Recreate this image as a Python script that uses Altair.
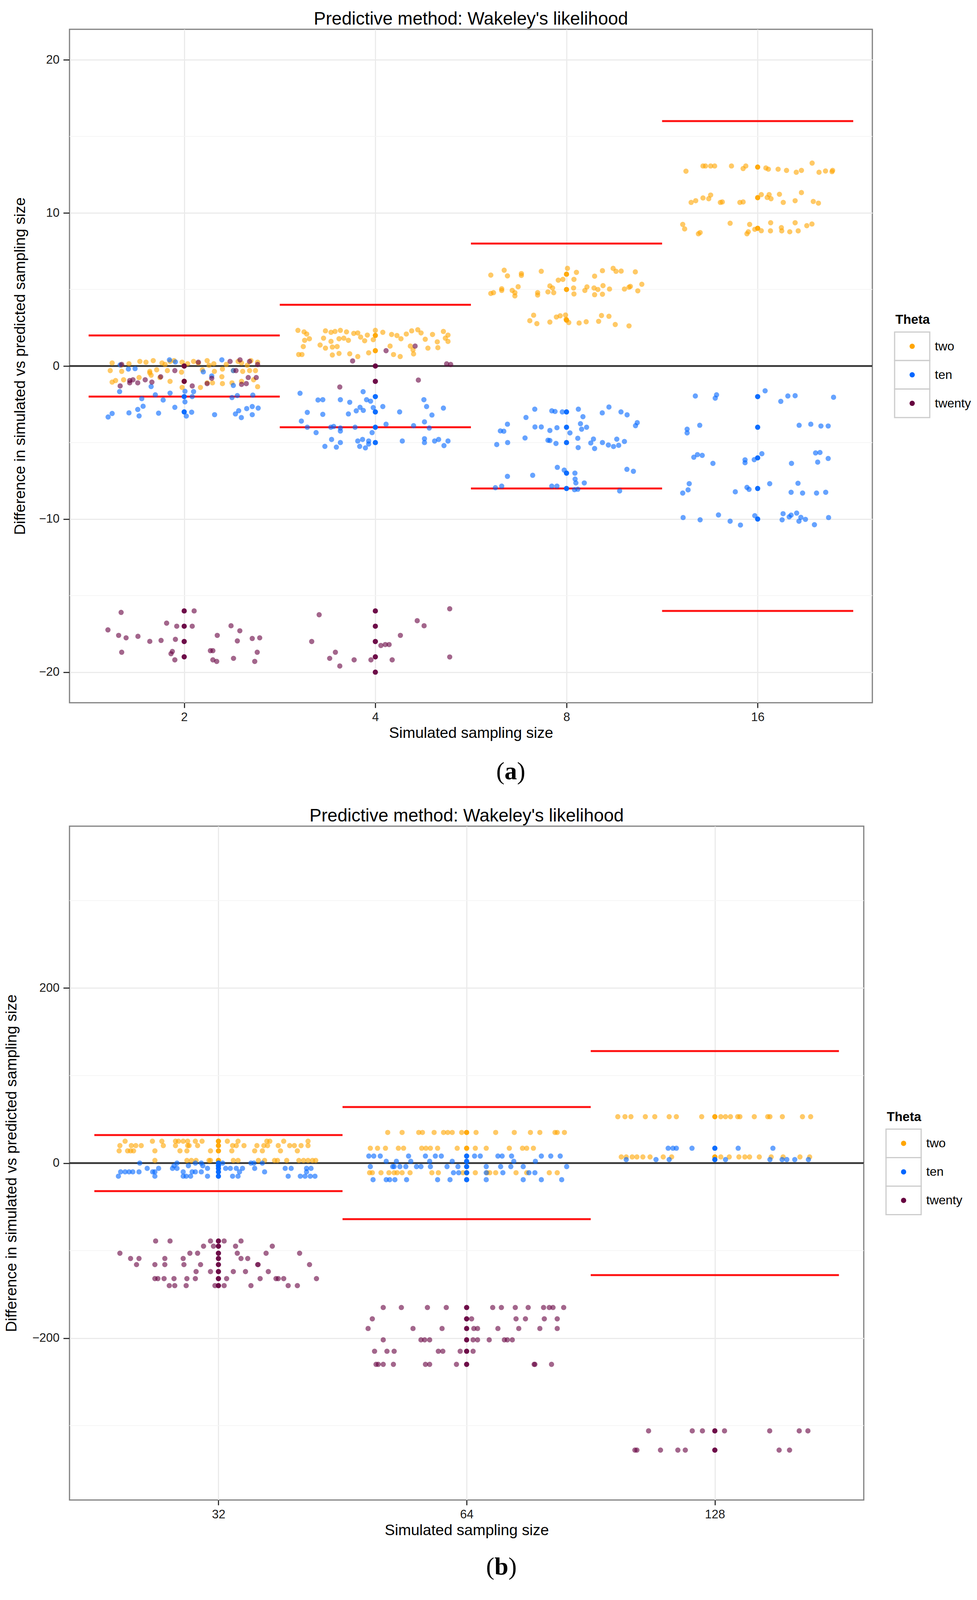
import altair as alt
import pandas as pd

FONT = "Liberation Sans"
SERIF = "Liberation Serif"

THETA = ["two", "ten", "twenty"]
COLORS = ["#FFA500", "#0066FF", "#66003F"]

TITLE = "Predictive method: Wakeley's likelihood"
X_TITLE = "Simulated sampling size"
Y_TITLE = "Difference in simulated vs predicted sampling size"

# ---------------- panel (a) ----------------
SIZES_A = [2, 4, 8, 16]
YTICKS_A = [-20, -10, 0, 10, 20]
YMINOR_A = [-15, -5, 5, 15]

# jittered points: (offset inside the category, value)
A2_TWO = [(-0.377, 0.2), (-0.289, 0.15), (-0.232, 0.3), (-0.2, 0.25), (-0.162, 0.35), (-0.116, 0.2),
          (-0.074, 0.3), (-0.053, 0.35), (-0.011, 0.25), (0.018, 0.15), (0.049, 0.3), (0.074, 0.2),
          (0.12, 0.35), (0.155, 0.15), (0.282, 0.3), (0.3, 0.2), (0.349, 0.35), (0.384, 0.25),
          (-0.33, 0.05), (-0.1, 0.1), (0.13, 0.05), (0.22, 0.1), (0.33, 0.05),
          (-0.387, -0.3), (-0.327, -0.35), (-0.18, -0.35), (-0.144, -0.25), (-0.088, -0.3), (-0.014, -0.4),
          (0.095, -0.25), (0.158, -0.35), (0.2, -0.2), (0.257, -0.3), (0.306, -0.35), (0.342, -0.3), (0.373, -0.3),
          (-0.377, -1.05), (-0.359, -0.95), (-0.317, -0.9), (-0.236, -0.75), (-0.173, -0.6), (-0.127, -0.75),
          (-0.074, -1.0), (0.12, -1.1), (0.148, -1.1), (0.197, -0.7), (0.2, -1.15), (0.25, -1.1), (0.3, -1.0),
          (0.363, -0.9), (0.384, -1.35), (-0.011, -1.4), (0.085, -1.4), (-0.18, -0.45)]
A2_TEN = [(-0.335, 0.07), (-0.292, -0.2), (-0.257, -0.17), (-0.077, 0.4), (-0.046, 0.27), (0.1, -0.38),
          (0.197, 0.4), (0.257, -0.3),
          (-0.338, -1.67), (-0.173, -1.34), (-0.151, -1.88), (-0.074, -1.77), (0.004, -1.65), (0.049, -1.67),
          (0.144, -0.65), (0.257, -1.27), (0.278, -1.93), (0.359, -1.9), (0.042, -2.0), (0.25, -2.06),
          (-0.222, -2.13), (-0.11, -2.22), (0.004, -2.34),
          (-0.398, -3.33), (-0.377, -3.1), (-0.289, -3.06), (-0.243, -2.84), (-0.215, -2.63), (-0.236, -3.26),
          (-0.134, -3.08), (-0.049, -2.7), (0.039, -3.02), (0.011, -3.27), (0.159, -3.18), (0.268, -3.13),
          (0.285, -2.92), (0.327, -2.78), (0.356, -2.65), (0.387, -2.75), (0.299, -3.37), (0.356, -3.18)]
A2_TWENTY = [(-0.327, 0.1), (0.074, 0.25), (0.24, 0.3), (0.292, 0.4), (0.342, 0.3), (0.384, 0.1),
             (-0.049, -0.3), (0.271, -0.3), (-0.335, -1.3), (-0.285, -0.95), (-0.268, -0.9), (-0.243, -1.1),
             (-0.285, -1.1), (-0.204, -0.9), (-0.169, -1.05), (-0.123, -0.7), (0.042, -1.3), (0.12, -1.15),
             (0.144, -0.8), (0.3, -1.2), (0.325, -1.15), (0.335, -0.75), (0.377, -0.75),
             (-0.399, -17.24), (-0.33, -16.1), (-0.343, -17.6), (-0.327, -18.7), (-0.304, -17.76),
             (-0.242, -17.66), (-0.18, -17.99), (-0.121, -17.93), (-0.092, -16.8), (-0.069, -18.8),
             (-0.062, -18.65), (-0.046, -17.86), (-0.049, -19.2), (-0.039, -17.0), (0.052, -16.0),
             (0.042, -17.0), (0.137, -18.6), (0.15, -18.6), (0.15, -19.2), (0.17, -19.3), (0.173, -17.6),
             (0.245, -16.97), (0.258, -19.1), (0.278, -17.96), (0.291, -17.3), (0.356, -17.8), (0.369, -19.3),
             (0.382, -18.7), (0.395, -17.76)]

A4_TWO = [(-0.405, 2.33), (-0.373, 2.23), (-0.359, 2.09), (-0.261, 2.3), (-0.232, 2.2), (-0.211, 2.26),
          (-0.183, 2.33), (-0.151, 2.23), (-0.113, 2.13), (-0.092, 2.16), (-0.042, 2.02), (0.0, 2.33),
          (0.039, 2.2), (0.085, 2.06), (0.113, 1.99), (0.162, 2.09), (0.19, 2.3), (0.222, 2.37), (0.239, 2.16),
          (0.299, 2.06), (0.356, 2.26), (0.38, 2.02),
          (-0.37, 1.68), (-0.345, 1.78), (-0.271, 1.82), (-0.232, 1.61), (-0.19, 1.78), (-0.165, 1.82),
          (-0.141, 1.68), (-0.077, 1.89), (-0.056, 1.65), (-0.011, 1.72), (0.134, 1.78), (0.261, 1.75),
          (0.324, 1.58), (0.366, 1.82), (0.38, 1.61),
          (-0.377, 1.27), (-0.289, 1.37), (-0.261, 1.17), (-0.225, 1.24), (-0.2, 1.27), (0.077, 1.3),
          (0.183, 1.3), (0.275, 1.17), (0.327, 1.2), (0.197, 1.06),
          (-0.401, 0.75), (-0.384, 0.75), (-0.225, 0.72), (-0.19, 0.82), (-0.134, 0.8), (-0.092, 0.62),
          (-0.035, 0.86), (0.095, 0.75), (0.13, 0.62), (0.2, 0.79)]
A4_TEN = [(-0.394, -1.78), (-0.3, -2.22), (-0.275, -2.2), (-0.183, -2.2), (-0.134, -2.37), (-0.064, -1.68),
          (-0.046, -2.2), (-0.025, -2.3), (0.254, -2.2),
          (-0.356, -3.03), (-0.275, -3.16), (-0.141, -3.13), (-0.1, -2.93), (-0.08, -2.7), (-0.063, -2.9),
          (-0.011, -2.72), (0.039, -2.65), (0.127, -3.0), (0.268, -2.65), (0.296, -3.2), (0.356, -2.75),
          (-0.387, -3.6), (-0.356, -4.0), (-0.233, -4.0), (-0.218, -3.95), (-0.183, -4.05), (-0.183, -4.25),
          (-0.106, -4.0), (0.056, -3.8), (0.2, -3.9), (0.257, -3.65), (0.282, -4.05), (-0.31, -4.35),
          (-0.017, -4.35),
          (-0.229, -4.8), (-0.183, -5.0), (-0.264, -5.25), (-0.204, -5.3), (-0.092, -4.9), (-0.067, -4.8),
          (-0.082, -5.25), (-0.052, -5.35), (-0.035, -5.1), (-0.035, -4.9), (0.141, -4.9), (0.257, -4.75),
          (0.257, -5.0), (0.31, -4.9), (0.331, -4.8), (0.38, -4.9), (0.359, -5.2)]
A4_TWENTY = [(-0.119, 0.33), (0.056, 1.0), (0.208, 1.3), (0.373, 0.14), (0.394, 0.1), (0.225, -0.92),
             (-0.186, -1.37),
             (-0.333, -18.0), (-0.294, -16.25), (-0.239, -19.1), (-0.209, -18.7), (-0.186, -19.6),
             (-0.111, -19.2), (-0.023, -19.2), (0.029, -18.26), (0.052, -18.2), (0.072, -18.2), (0.088, -19.2),
             (0.131, -17.6), (0.219, -16.64), (0.255, -16.97), (0.389, -15.86), (0.389, -19.01)]

A8_TWO = [(-0.396, 5.94), (-0.326, 6.26), (-0.309, 5.89), (-0.236, 6.04), (-0.236, 5.92), (-0.132, 6.19),
          (0.005, 6.38), (0.052, 6.12), (-0.043, 5.61), (-0.019, 5.66), (0.039, 5.66), (0.147, 5.87),
          (0.188, 6.23), (0.244, 6.38), (0.259, 6.19), (0.286, 6.2), (0.36, 6.15),
          (-0.396, 4.74), (-0.382, 4.79), (-0.339, 5.05), (-0.339, 4.94), (-0.284, 4.94), (-0.27, 4.79),
          (-0.27, 4.58), (-0.253, 5.18), (-0.151, 4.79), (-0.151, 4.64), (-0.097, 4.84), (-0.087, 5.23),
          (-0.073, 5.1), (-0.067, 4.79), (0.037, 5.1), (0.039, 4.71), (0.096, 4.94), (0.107, 5.17),
          (0.144, 5.1), (0.164, 5.0), (0.147, 4.66), (0.188, 4.69), (0.191, 5.25), (0.225, 5.03),
          (0.303, 5.03), (0.327, 5.15), (0.334, 5.2), (0.373, 4.91), (0.394, 5.34),
          (-0.192, 2.96), (-0.172, 3.32), (-0.155, 2.77), (-0.087, 2.87), (-0.053, 3.2), (-0.033, 3.28),
          (-0.005, 3.33), (-0.002, 3.05), (0.012, 2.84), (0.066, 2.81), (0.103, 2.89), (0.168, 2.92),
          (0.183, 3.3), (0.222, 3.25), (0.255, 2.71), (0.327, 2.62)]
A8_TEN = [(-0.166, -2.82), (-0.077, -2.93), (-0.06, -2.97), (-0.022, -3.0), (0.062, -2.82), (0.187, -3.06),
          (0.222, -2.68), (0.285, -3.0), (0.317, -3.19), (0.086, -3.31), (-0.212, -3.36),
          (-0.309, -3.8), (-0.346, -4.24), (-0.328, -4.26), (-0.165, -3.98), (-0.132, -3.98), (-0.087, -4.21),
          (-0.05, -4.03), (0.018, -4.37), (0.073, -3.77), (0.079, -4.13), (0.105, -4.0), (0.37, -3.7),
          (0.361, -3.9),
          (-0.365, -5.13), (-0.308, -5.0), (-0.217, -4.7), (-0.097, -4.85), (-0.087, -4.87), (-0.055, -5.06),
          (0.059, -4.72), (0.061, -5.33), (0.127, -5.03), (0.141, -4.77), (0.147, -5.39), (0.188, -5.0),
          (0.219, -5.16), (0.246, -5.26), (0.263, -4.78), (0.273, -5.18), (0.303, -4.93),
          (-0.309, -7.21), (-0.177, -7.14), (-0.048, -6.62), (-0.012, -6.8), (0.044, -7.0), (0.045, -7.39),
          (0.049, -7.64), (0.093, -7.64), (0.316, -6.75), (0.35, -6.88),
          (-0.372, -7.95), (-0.339, -7.85), (-0.077, -7.85), (-0.05, -7.85), (0.042, -8.08), (0.059, -8.05),
          (0.278, -8.16)]

A16_TWO = [(-0.375, 12.73), (-0.286, 13.07), (-0.273, 13.07), (-0.246, 13.07), (-0.225, 13.07),
           (-0.137, 13.07), (-0.076, 12.9), (-0.062, 13.07), (0.043, 12.94), (0.056, 12.86), (0.107, 12.86),
           (0.151, 12.78), (0.202, 12.66), (0.229, 12.78), (0.285, 13.26), (0.321, 12.66), (0.355, 12.74),
           (0.389, 12.7), (0.392, 12.78),
           (-0.348, 10.69), (-0.324, 10.8), (-0.286, 10.98), (-0.256, 10.93), (-0.246, 11.17),
           (-0.195, 10.69), (-0.185, 10.72), (-0.093, 10.69), (-0.076, 10.72), (0.019, 11.2), (0.05, 11.01),
           (0.06, 11.2), (0.07, 10.93), (0.114, 11.22), (0.134, 10.69), (0.196, 10.8), (0.229, 11.33),
           (0.291, 10.75), (0.318, 10.64),
           (-0.392, 9.25), (-0.382, 8.96), (-0.31, 8.64), (-0.301, 8.72), (-0.144, 9.33), (-0.042, 9.25),
           (-0.049, 8.77), (-0.056, 8.64), (-0.015, 8.93), (0.019, 8.84), (0.068, 9.36), (0.067, 8.83),
           (0.124, 9.04), (0.126, 8.83), (0.168, 8.77), (0.196, 9.36), (0.212, 8.83), (0.257, 9.17),
           (0.284, 9.28)]
A16_TEN = [(-0.326, -1.96), (-0.215, -1.88), (-0.222, -2.1), (0.039, -1.62), (0.121, -2.31), (0.158, -1.96),
           (0.196, -1.94), (0.397, -2.04),
           (-0.369, -4.13), (-0.369, -4.37), (-0.303, -3.87), (0.217, -3.87), (0.278, -3.8), (0.331, -3.92),
           (0.369, -3.92),
           (-0.334, -5.96), (-0.315, -5.79), (-0.29, -5.84), (-0.234, -6.36), (-0.066, -6.13), (-0.066, -6.32),
           (-0.018, -6.12), (0.022, -5.73), (0.177, -6.36), (0.303, -5.68), (0.326, -5.65), (0.314, -6.28),
           (0.369, -6.04),
           (-0.358, -7.69), (-0.364, -8.09), (-0.392, -8.3), (-0.117, -8.22), (-0.056, -7.93), (-0.045, -8.06),
           (0.063, -7.69), (0.175, -8.25), (0.211, -7.66), (0.235, -8.3), (0.308, -8.3), (0.356, -8.25),
           (-0.39, -9.9), (-0.301, -10.05), (-0.205, -9.73), (-0.144, -10.14), (-0.09, -10.39),
           (-0.015, -9.78), (0.133, -9.65), (0.128, -10.05), (0.165, -9.86), (0.175, -9.74), (0.204, -9.61),
           (0.216, -10.14), (0.226, -9.89), (0.25, -10.02), (0.297, -10.37), (0.371, -9.9)]

A_JITTER = {
    (2, "two"): A2_TWO, (2, "ten"): A2_TEN, (2, "twenty"): A2_TWENTY,
    (4, "two"): A4_TWO, (4, "ten"): A4_TEN, (4, "twenty"): A4_TWENTY,
    (8, "two"): A8_TWO, (8, "ten"): A8_TEN,
    (16, "two"): A16_TWO, (16, "ten"): A16_TEN,
}
# un-jittered points drawn on the category line
A_CENTRES = {
    (2, "two"): [0, -1], (2, "ten"): [-2, -3], (2, "twenty"): [0, -1, -16, -17, -18, -19],
    (4, "two"): [2, 1], (4, "ten"): [-2, -3, -4, -5], (4, "twenty"): [0, -1, -16, -17, -18, -19, -20],
    (8, "two"): [6, 5, 3], (8, "ten"): [-3, -4, -5, -7, -8],
    (16, "two"): [13, 11, 9], (16, "ten"): [-2, -4, -6, -8, -10],
}

# ---------------- panel (b) ----------------
SIZES_B = [32, 64, 128]
YTICKS_B = [-200, 0, 200]
YMINOR_B = [-300, -100, 100, 300]

# value level -> offsets of the jittered points inside the category
B32_TWO = {25: [-0.376, -0.266, -0.228, -0.173, -0.161, -0.142, -0.124, -0.093, -0.066, 0.036, 0.079, 0.195, 0.207, 0.263, 0.361],
           20: [-0.397, -0.351, -0.333, -0.311, -0.222, -0.173, -0.124, -0.118, -0.084, 0.057, 0.072, 0.103, 0.155, 0.183, 0.198, 0.241, 0.287, 0.306, 0.333, 0.361],
           14: [-0.4, -0.366, -0.354, -0.342, -0.256, -0.155, -0.127, -0.032, 0.054, 0.146, 0.177, 0.25, 0.318],
           3: [-0.256, -0.127, -0.109, -0.09, -0.038, -0.032, 0.06, 0.079, 0.161, 0.186, 0.226, 0.238, 0.275, 0.324, 0.343, 0.361, 0.379, 0.392]}
B32_TEN = {0: [-0.317, -0.167, -0.093, -0.069, 0.017, 0.131, 0.143, 0.177],
           -3: [-0.179, -0.121, -0.063],
           -6: [-0.287, -0.241, -0.185, -0.167, -0.044, 0.029, 0.048, 0.072, 0.097, 0.146, 0.269, 0.293, 0.355, 0.373],
           -10: [-0.394, -0.376, -0.36, -0.345, -0.32, -0.265, -0.256, -0.142, -0.106, -0.093, -0.069, 0.085, 0.186, 0.355],
           -15: [-0.403, -0.256, -0.142, -0.13, -0.112, -0.044, 0.057, 0.079, 0.281, 0.33, 0.349, 0.37, 0.389]}
B32_TWENTY = {-89: [-0.253, -0.195, -0.032, 0.023, 0.091],
              -95: [-0.06, -0.02, 0.069, 0.217],
              -103: [-0.397, -0.115, -0.084, 0.076, 0.192, 0.327],
              -109: [-0.354, -0.32, -0.216, -0.142, 0.091, 0.118],
              -116: [-0.33, -0.256, -0.216, -0.139, -0.072, 0.158, 0.16, 0.367],
              -124: [-0.09, -0.032, 0.06, 0.109, 0.201],
              -132: [-0.256, -0.244, -0.219, -0.179, -0.127, -0.093, 0.033, 0.168, 0.232, 0.241, 0.263, 0.395],
              -140: [-0.198, -0.176, -0.13, -0.014, 0.023, 0.131, 0.281, 0.318]}
B64_TWO = {35: [-0.318, -0.26, -0.193, -0.178, -0.131, -0.093, -0.076, -0.058, -0.02, 0.038, 0.117, 0.192, 0.257, 0.295, 0.356, 0.365, 0.394],
           17: [-0.388, -0.359, -0.327, -0.275, -0.254, -0.181, -0.164, -0.146, -0.117, -0.038, 0.035, 0.079, 0.172, 0.225, 0.242, 0.269],
           -11: [-0.391, -0.38, -0.345, -0.313, -0.292, -0.28, -0.26, -0.228, -0.14, -0.114, -0.015, 0.035, 0.082, 0.093, 0.117, 0.199, 0.242, 0.333, 0.365]}
B64_TEN = {8: [-0.394, -0.374, -0.348, -0.234, -0.166, -0.126, -0.102, 0.032, 0.055, 0.126, 0.143, 0.181, 0.301, 0.339, 0.377],
           2: [-0.324, -0.283, -0.225, -0.149, -0.058, 0.19, 0.277],
           -4: [-0.388, -0.298, -0.292, -0.269, -0.245, -0.202, -0.184, -0.146, -0.079, -0.035, 0.079, 0.137, 0.178, 0.228, 0.403],
           -11: [-0.053, -0.032, 0.079, 0.146, 0.251, 0.275],
           -19: [-0.377, -0.324, -0.31, -0.289, -0.242, -0.117, -0.067, 0.079, 0.228, 0.301, 0.383]}
B64_TWENTY = {-165: [-0.336, -0.263, -0.158, -0.082, 0.105, 0.14, 0.196, 0.248, 0.31, 0.333, 0.348, 0.391],
              -178: [-0.38, 0.02, 0.199, 0.237, 0.313, 0.365],
              -189: [-0.397, -0.216, -0.099, 0.029, 0.044, 0.126, 0.21, 0.295, 0.365],
              -202: [-0.336, -0.184, -0.169, -0.149, 0.026, 0.044, 0.091, 0.152, 0.164, 0.184],
              -215: [-0.371, -0.321, -0.292, -0.114, -0.096, -0.026, 0.026],
              -230: [-0.365, -0.356, -0.336, -0.295, -0.166, -0.149, -0.041, 0.272, 0.275, 0.342]}
B128_TWO = {53: [-0.391, -0.362, -0.338, -0.28, -0.242, -0.184, -0.155, -0.053, 0.024, 0.043, 0.063, 0.092, 0.101, 0.159, 0.213, 0.222, 0.272, 0.353, 0.386],
            7: [-0.377, -0.357, -0.333, -0.314, -0.29, -0.261, -0.208, -0.174, 0.024, 0.058, 0.097, 0.121, 0.14, 0.179, 0.227, 0.275, 0.343, 0.382]}
B128_TEN = {17: [-0.188, -0.169, -0.155, -0.092, 0.094, 0.234],
            4: [-0.357, -0.237, -0.184, 0.043, 0.222, 0.271, 0.29, 0.322, 0.377]}
B128_TWENTY = {-306: [-0.267, -0.091, -0.05, 0.039, 0.221, 0.34, 0.375],
               -328: [-0.322, -0.314, -0.219, -0.149, -0.119, 0.259, 0.301]}

B_ROWS = {
    (32, "two"): B32_TWO, (32, "ten"): B32_TEN, (32, "twenty"): B32_TWENTY,
    (64, "two"): B64_TWO, (64, "ten"): B64_TEN, (64, "twenty"): B64_TWENTY,
    (128, "two"): B128_TWO, (128, "ten"): B128_TEN, (128, "twenty"): B128_TWENTY,
}


def frames_a():
    jit, cen = [], []
    for (s, th), pts in A_JITTER.items():
        i = SIZES_A.index(s) + 1
        for off, v in pts:
            jit.append({"theta": th, "pos": i + off, "val": v})
    for (s, th), lv in A_CENTRES.items():
        i = SIZES_A.index(s) + 1
        for v in lv:
            cen.append({"theta": th, "pos": i, "val": v})
    return pd.DataFrame(jit), pd.DataFrame(cen)


def frames_b():
    jit, cen = [], []
    for (s, th), rows in B_ROWS.items():
        i = SIZES_B.index(s) + 1
        for v, offs in rows.items():
            for off in offs:
                jit.append({"theta": th, "pos": i + off, "val": v})
            cen.append({"theta": th, "pos": i, "val": v})
    return pd.DataFrame(jit), pd.DataFrame(cen)


COLOR = alt.Color("theta:N", scale=alt.Scale(domain=THETA, range=COLORS), legend=None)

F_TITLE, F_AXT, F_TICK, F_LEG, F_TAG = 46, 39, 31, 32, 64


def panel(sizes, jit, cen, ydom, yticks, yminor, W, H, ytp, tag, tag_cx, tag_dy, half):
    n = len(sizes)
    xscale = alt.Scale(domain=[0.4, n + 0.6], nice=False, zero=False)
    yscale = alt.Scale(domain=ydom, nice=False, zero=False)
    label_expr = "[" + ",".join("'%s'" % s for s in sizes) + "][datum.value - 1]"
    xaxis = alt.Axis(values=list(range(1, n + 1)), labelExpr=label_expr, title=X_TITLE,
                     labelFont=FONT, titleFont=FONT, labelFontSize=F_TICK, titleFontSize=F_AXT,
                     titleFontWeight="normal", labelColor="#1a1a1a", titleColor="#000000",
                     tickSize=13, tickWidth=3, tickColor="#333333", labelPadding=9, titlePadding=6,
                     grid=True, gridColor="#EBEBEB", gridWidth=3, domain=False)
    yaxis = alt.Axis(values=yticks, title=Y_TITLE,
                     labelFont=FONT, titleFont=FONT, labelFontSize=F_TICK, titleFontSize=F_AXT,
                     titleFontWeight="normal", labelColor="#1a1a1a", titleColor="#000000",
                     tickSize=16, tickWidth=3, tickColor="#333333", labelPadding=10, titlePadding=ytp,
                     grid=True, gridColor="#EBEBEB", gridWidth=3, domain=False)

    minor = alt.Chart(pd.DataFrame({"v": yminor})).mark_rule(color="#F5F5F5", strokeWidth=2).encode(
        y=alt.Y("v:Q", scale=yscale, axis=yaxis))

    seg = []
    for i, s in enumerate(sizes):
        for sign in (1, -1):
            seg.append({"x0": i + 1 - 0.5, "x1": i + 1 + 0.5, "v": sign * s})
    red = alt.Chart(pd.DataFrame(seg)).mark_rule(color="#FF1010", strokeWidth=5).encode(
        x=alt.X("x0:Q", scale=xscale, axis=xaxis), x2="x1:Q",
        y=alt.Y("v:Q", scale=yscale, axis=yaxis))

    zero = alt.Chart(pd.DataFrame({"v": [0]})).mark_rule(color="#333333", strokeWidth=4.5).encode(
        y=alt.Y("v:Q", scale=yscale, axis=yaxis))

    pts = alt.Chart(jit).mark_circle(size=180, opacity=0.6, strokeWidth=0).encode(
        x=alt.X("pos:Q", scale=xscale, axis=xaxis),
        y=alt.Y("val:Q", scale=yscale, axis=yaxis), color=COLOR)
    ctr = alt.Chart(cen).mark_circle(size=180, opacity=0.95, strokeWidth=0).encode(
        x=alt.X("pos:Q", scale=xscale, axis=xaxis),
        y=alt.Y("val:Q", scale=yscale, axis=yaxis), color=COLOR)

    main = alt.layer(minor, red, zero, pts, ctr)

    # legend drawn beside the panel
    top = H / 2 - 87
    ly = alt.Scale(domain=[0, 3], range=[top, top + 219])
    leg = pd.DataFrame({"theta": THETA, "k": list(range(len(THETA)))})
    base = alt.Chart(leg).transform_calculate(k1="datum.k + 1", kc="datum.k + 0.5")
    boxes = base.mark_rect(fill="white", stroke="#CCCCCC", strokeWidth=3).encode(
        x=alt.value(W + 57), x2=alt.value(W + 147),
        y=alt.Y("k:Q", scale=ly, axis=None), y2="k1:Q")
    dots = base.mark_circle(size=180, opacity=1).encode(
        x=alt.value(W + 102), y=alt.Y("kc:Q", scale=ly, axis=None), color=COLOR)
    labs = base.mark_text(align="left", baseline="middle", font=FONT, fontSize=F_LEG, color="#000000").encode(
        x=alt.value(W + 160), y=alt.Y("kc:Q", scale=ly, axis=None), text="theta:N")
    ltitle = alt.Chart(pd.DataFrame({"t": ["Theta"]})).mark_text(
        align="left", baseline="middle", font=FONT, fontSize=F_LEG + 1, fontWeight="bold",
        color="#000000").encode(x=alt.value(W + 59), y=alt.value(H / 2 - 118), text="t:N")

    tdf = pd.DataFrame({"l": ["("], "m": [tag], "r": [")"]})
    tl = alt.Chart(tdf).mark_text(align="right", baseline="middle", font=SERIF, fontSize=F_TAG,
                                  color="#000000").encode(
        x=alt.value(tag_cx - half), y=alt.value(H + tag_dy), text="l:N")
    tm = alt.Chart(tdf).mark_text(align="center", baseline="middle", font=SERIF, fontSize=F_TAG,
                                  fontWeight="bold", color="#000000").encode(
        x=alt.value(tag_cx), y=alt.value(H + tag_dy), text="m:N")
    tr = alt.Chart(tdf).mark_text(align="left", baseline="middle", font=SERIF, fontSize=F_TAG,
                                  color="#000000").encode(
        x=alt.value(tag_cx + half), y=alt.value(H + tag_dy), text="r:N")

    side = alt.layer(boxes, dots, labs, ltitle, tl, tm, tr)

    return alt.layer(main, side).resolve_scale(y="independent").properties(
        width=W, height=H,
        title=alt.TitleParams(TITLE, font=FONT, fontSize=F_TITLE, fontWeight="normal", color="#000000",
                              anchor="middle", frame="group", offset=2))


ja, ca = frames_a()
jb, cb = frames_b()

pa = panel(SIZES_A, ja, ca, [-22, 22], YTICKS_A, YMINOR_A, 2056, 1724, 28, "a", 1130, 177, 16)
pb = panel(SIZES_B, jb, cb, [-385, 385], YTICKS_B, YMINOR_B, 2034, 1725, 33, "b", 1106, 172, 18)

chart = alt.vconcat(pa, pb, spacing=54).configure_view(
    stroke="#7F7F7F", strokeWidth=3, fill="white").properties(
    background="white", padding={"top": 16, "left": 0, "right": 0, "bottom": 0})

chart.save("out.html", embed_options={"renderer": "svg", "actions": False})
